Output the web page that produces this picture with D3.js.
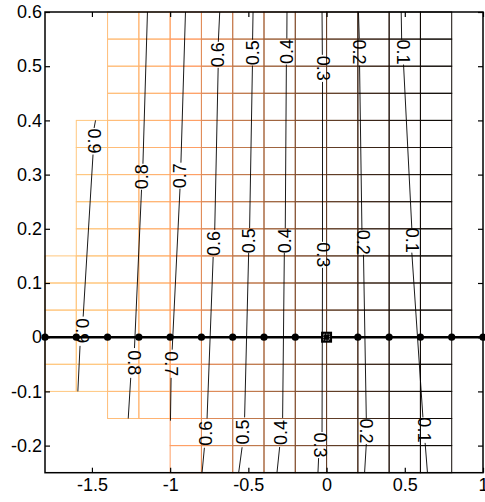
<!DOCTYPE html>
<html>
<head>
<meta charset="utf-8">
<script src="https://cdn.jsdelivr.net/npm/d3@7"></script>
<style>
	body { margin: 0; background: #fff; }
	svg { display: block; }
	text { font-family: "Liberation Sans", Arial, sans-serif; }
</style>
</head>
<body>
<svg id="chart" width="485" height="502"></svg>
<script>
// mesh columns (left edge, bottom, top, colour level)
const colX0    = [-1.8, -1.6, -1.4, -1.2, -1.0, -0.8, -0.6, -0.4, -0.2, 0.0, 0.2, 0.4, 0.6]
const colYMin  = [-0.1, -0.1, -0.15, -0.15, -0.25, -0.25, -0.25, -0.25, -0.25, -0.25, -0.25, -0.25, -0.25]
const colYMax  = [0.15, 0.4, 0.6, 0.6, 0.6, 0.6, 0.6, 0.6, 0.6, 0.6, 0.6, 0.6, 0.6]
const colLevel = [1.0, 1.0, 0.95, 0.9, 0.8, 0.7, 0.6, 0.5, 0.4, 0.3, 0.18, 0.1, 0.05]
const cellW = 0.2
const cellH = 0.05

// contour levels, their line pieces and label spots
const contourLevels = ["0.9", "0.8", "0.7", "0.6", "0.5", "0.4", "0.3", "0.2", "0.1"]
const contourSegments = [
	[[[-1.477, 0.4], [-1.486, 0.386]], [[-1.493, 0.337], [-1.556, 0.038]], [[-1.576, -0.016], [-1.590, -0.1]]],
	[[[-1.145, 0.6], [-1.174, 0.320]], [[-1.183, 0.272], [-1.228, -0.020]], [[-1.252, -0.075], [-1.268, -0.15]]],
	[[[-0.902, 0.6], [-0.931, 0.322]], [[-0.937, 0.274], [-0.987, -0.023]], [[-0.994, -0.075], [-0.998, -0.154]]],
	[[[-0.683, 0.6], [-0.692, 0.545]], [[-0.693, 0.497], [-0.715, 0.198]], [[-0.725, 0.148], [-0.764, -0.15]], [[-0.781, -0.204], [-0.796, -0.25]]],
	[[[-0.470, 0.6], [-0.473, 0.549]], [[-0.474, 0.501], [-0.492, 0.201]], [[-0.498, 0.156], [-0.524, -0.148]], [[-0.540, -0.203], [-0.562, -0.25]]],
	[[[-0.253, 0.6], [-0.254, 0.551]], [[-0.257, 0.503], [-0.264, 0.201]], [[-0.270, 0.156], [-0.281, -0.149]], [[-0.300, -0.2025], [-0.317, -0.25]]],
	[[[-0.029, 0.6], [-0.027, 0.521]], [[-0.026, 0.471], [-0.026, 0.176]], [[-0.026, 0.128], [-0.029, -0.175]], [[-0.051, -0.223], [-0.055, -0.25]]],
	[[[0.204, 0.6], [0.209, 0.551]], [[0.211, 0.501], [0.226, 0.198]], [[0.236, 0.152], [0.254, -0.15]], [[0.254, -0.197], [0.243, -0.25]]],
	[[[0.477, 0.6], [0.480, 0.549]], [[0.492, 0.503], [0.545, 0.201]], [[0.545, 0.156], [0.616, -0.148]], [[0.630, -0.195], [0.645, -0.25]]]
]
const contourLabelAt = [
	[[-1.485, 0.362], [-1.566, 0.012]],
	[[-1.177, 0.296], [-1.234, -0.047]],
	[[-0.934, 0.298], [-0.992, -0.049]],
	[[-0.695, 0.521], [-0.720, 0.173], [-0.773, -0.177]],
	[[-0.473, 0.525], [-0.495, 0.178], [-0.532, -0.175]],
	[[-0.255, 0.527], [-0.267, 0.178], [-0.291, -0.176]],
	[[-0.026, 0.496], [-0.026, 0.152], [-0.040, -0.199]],
	[[0.210, 0.526], [0.231, 0.175], [0.254, -0.173]],
	[[0.486, 0.526], [0.545, 0.179], [0.623, -0.171]]
]
const contourLabelTurn = [
	[90, 90],
	[-90, 90],
	[-90, 90],
	[-90, -90, -90],
	[-90, -90, -90],
	[-90, -90, -90],
	[90, 90, 90],
	[90, 90, 90],
	[90, 90, 90]
]

// nodes on the y = 0 line
const nodeX = [-1.8, -1.6, -1.4, -1.2, -1.0, -0.8, -0.6, -0.4, -0.2, 0.2, 0.4, 0.6, 0.8, 1.0]
const sourceX = [0]

const xTicks = [-1.5, -1, -0.5, 0, 0.5, 1]
const yTicks = [-0.2, -0.1, 0, 0.1, 0.2, 0.3, 0.4, 0.5, 0.6]

// layout
const plotLeft = 45, plotRight = 483, plotTop = 12, plotBottom = 472.7
const svg = d3.select('#chart')

const x = d3.scaleLinear().domain([-1.8, 1]).range([plotLeft, plotRight])
const y = d3.scaleLinear().domain([-0.25, 0.6]).range([plotBottom, plotTop])

// matlab-ish copper map
function copper(v) {
	return d3.rgb(Math.min(1, 1.25 * v) * 255, 0.7812 * v * 255, 0.4975 * v * 255).formatHex()
}

// mesh
let cells = []
colX0.forEach((x0, i) => {
	let n = Math.round((colYMax[i] - colYMin[i]) / cellH)
	for (let k of d3.range(n)) {
		cells.push({x0: x0, y0: colYMin[i] + k * cellH, level: colLevel[i]})
	}
})
svg.append('g')
	.selectAll('rect')
	.data(cells)
	.join('rect')
	.attr('x', d => x(d.x0))
	.attr('y', d => y(d.y0 + cellH))
	.attr('width', d => x(d.x0 + cellW) - x(d.x0))
	.attr('height', d => y(d.y0) - y(d.y0 + cellH))
	.attr('fill', 'none')
	.attr('stroke', d => copper(d.level))
	.attr('stroke-width', 1)

// contours
const line = d3.line().x(d => x(d[0])).y(d => y(d[1]))
let segs = contourSegments.flat()
svg.append('g')
	.selectAll('path')
	.data(segs)
	.join('path')
	.attr('d', line)
	.attr('fill', 'none')
	.attr('stroke', '#000')
	.attr('stroke-width', 0.9)

let labels = []
contourLabelAt.forEach((spots, i) => {
	spots.forEach((p, j) => labels.push({text: contourLevels[i], x: p[0], y: p[1], turn: contourLabelTurn[i][j]}))
})
svg.append('g')
	.selectAll('text')
	.data(labels)
	.join('text')
	.attr('transform', d => `translate(${x(d.x)},${y(d.y)}) rotate(${d.turn})`)
	.attr('text-anchor', 'middle')
	.attr('dominant-baseline', 'central')
	.attr('font-size', 18)
	.text(d => d.text)

// node line
svg.append('line')
	.attr('x1', x(-1.8)).attr('x2', x(1))
	.attr('y1', y(0)).attr('y2', y(0))
	.attr('stroke', '#000')
	.attr('stroke-width', 2.6)

svg.append('g')
	.selectAll('circle')
	.data(nodeX)
	.join('circle')
	.attr('cx', d => x(d))
	.attr('cy', y(0))
	.attr('r', 3.6)
	.attr('fill', '#000')

let src = svg.append('g').selectAll('g').data(sourceX).join('g')
src.append('rect')
	.attr('x', d => x(d) - 5.5).attr('y', y(0) - 5.5)
	.attr('width', 11).attr('height', 11)
	.attr('fill', '#000')
src.append('rect')
	.attr('x', d => x(d) - 3).attr('y', y(0) - 3)
	.attr('width', 6).attr('height', 6)
	.attr('fill', 'none')
	.attr('stroke', '#888')
	.attr('stroke-width', 1)
	.attr('stroke-dasharray', '1.5,1')

// axes, ticks pointing inwards
const fmt = d => String(Math.round(d * 10) / 10)
svg.append('g')
	.attr('transform', `translate(0,${plotBottom})`)
	.call(d3.axisBottom(x).tickValues(xTicks).tickFormat(fmt).tickSizeInner(-5).tickSizeOuter(0).tickPadding(6))
svg.append('g')
	.attr('transform', `translate(0,${plotTop})`)
	.call(d3.axisTop(x).tickValues(xTicks).tickFormat('').tickSizeInner(-5).tickSizeOuter(0))
svg.append('g')
	.attr('transform', `translate(${plotLeft},0)`)
	.call(d3.axisLeft(y).tickValues(yTicks).tickFormat(fmt).tickSizeInner(-5).tickSizeOuter(0).tickPadding(3))
svg.append('g')
	.attr('transform', `translate(${plotRight},0)`)
	.call(d3.axisRight(y).tickValues(yTicks).tickFormat('').tickSizeInner(-5).tickSizeOuter(0))

svg.selectAll('.tick line').attr('stroke', '#000').attr('stroke-width', 1.2)
svg.selectAll('.domain').remove()
svg.selectAll('.tick text')
	.attr('font-size', 18)
	.attr('font-family', '"Liberation Sans", Arial, sans-serif')
	.attr('fill', '#000')

svg.append('rect')
	.attr('x', plotLeft).attr('y', plotTop)
	.attr('width', plotRight - plotLeft).attr('height', plotBottom - plotTop)
	.attr('fill', 'none')
	.attr('stroke', '#000')
	.attr('stroke-width', 1.5)
</script>
</body>
</html>
